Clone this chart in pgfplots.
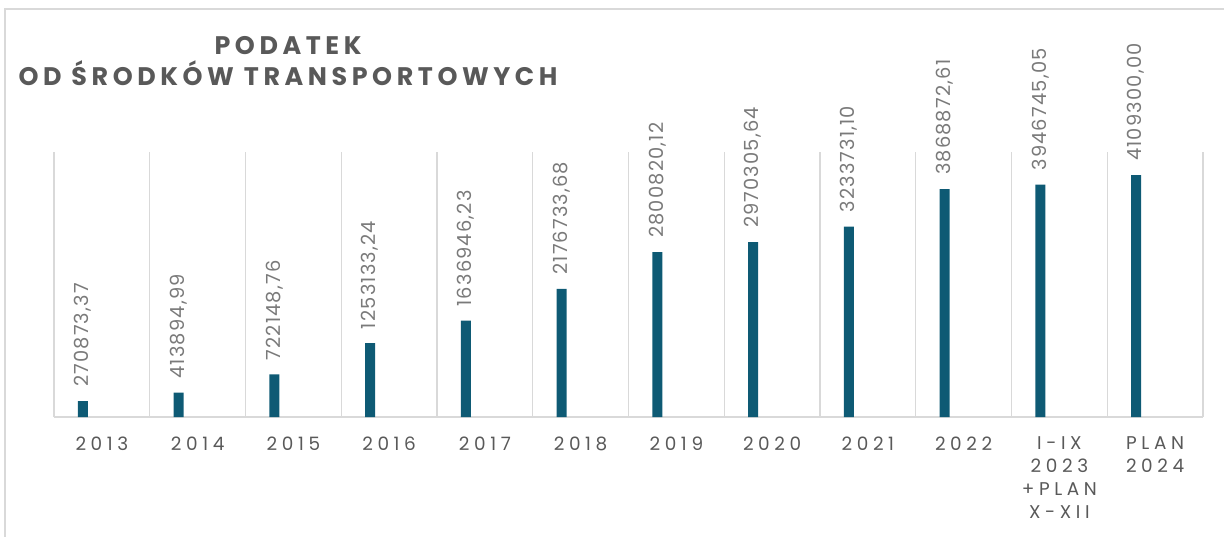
\documentclass[border=0pt]{standalone}
\usepackage{fontspec}
\setmainfont{Poppins}
\newfontfamily\spaced[LetterSpace=25]{Poppins}
\newfontfamily\lblfont[LetterSpace=6]{Poppins}
\newfontfamily\titlefont[LetterSpace=18]{Poppins}
\usepackage{pgfplots}
\pgfplotsset{compat=1.18}
\usepackage{pgfplotstable}
\definecolor{barblue}{HTML}{0E5A74}
\definecolor{gridgray}{HTML}{D9D9D9}
\definecolor{txtgray}{HTML}{595959}
\definecolor{lblgray}{HTML}{7A7A7A}

\pgfplotstableread{
x y lab
0 270873.37 270873,37
1 413894.99 413894,99
2 722148.76 722148,76
3 1253133.24 1253133,24
4 1636946.23 1636946,23
5 2176733.68 2176733,68
6 2800820.12 2800820,12
7 2970305.64 2970305,64
8 3233731.10 3233731,10
9 3868872.61 3868872,61
10 3946745.05 3946745,05
11 4109300.00 4109300,00
}\podatek

\begin{document}
\begin{tikzpicture}
\path[use as bounding box] (-54bp,-120bp) rectangle (1170bp,417bp);
\draw[gridgray, line width=1.2bp] (-49bp,-120bp) -- (-49bp,408bp) -- (1170bp,408bp);
\node[align=center, font=\titlefont\bfseries\fontsize{25.5}{32}\selectfont, text=txtgray] at (234bp,356bp) {PODATEK\\OD ŚRODKÓW TRANSPORTOWYCH};
\begin{axis}[at={(0,0)}, anchor=south west, scale only axis, width=1149bp, height=265bp,
  xmin=-0.5, xmax=11.5, ymin=0, ymax=4500000,
  axis y line=none, axis x line*=bottom, x axis line style={gridgray, line width=1.5bp, -},
  xtick={0,...,11}, major tick length=0,
  xticklabels={2013,2014,2015,2016,2017,2018,2019,2020,2021,2022,{I-IX\\2023\\+PLAN\\X-XII},{PLAN\\2024}},
  xticklabel style={font=\spaced\fontsize{18.5}{23}\selectfont, text=txtgray, align=center, anchor=north, yshift=-16bp},
  extra x ticks={-0.5,0.5,...,11.5}, extra x tick labels={},
  extra x tick style={grid=major, major grid style={gridgray, line width=1.4bp}},
  ybar, bar width=10bp,
  nodes near coords, point meta=explicit symbolic,
  every node near coord/.append style={rotate=90, anchor=west, inner xsep=14bp, font=\lblfont\fontsize{19.5}{22}\selectfont, text=lblgray}]
\addplot[fill=barblue, draw=none, bar shift=-19bp] table[x=x, y=y, meta=lab]{\podatek};
\end{axis}
\end{tikzpicture}
\end{document}
